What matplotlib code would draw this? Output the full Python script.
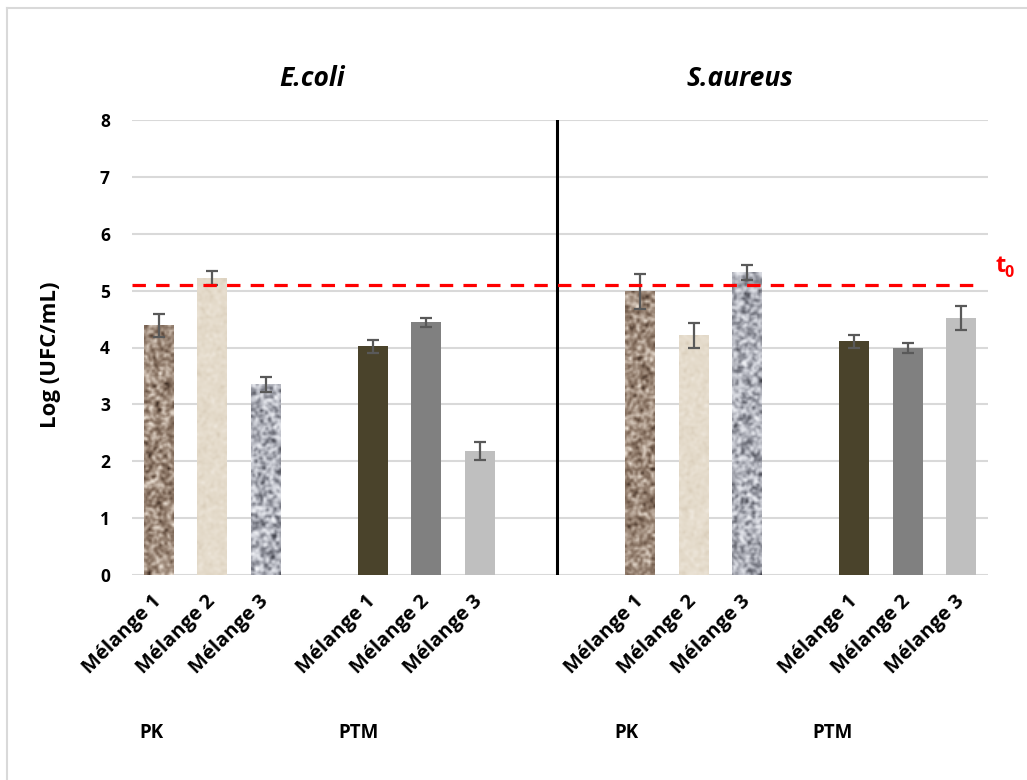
import numpy as np
import matplotlib.pyplot as plt
from matplotlib.colors import LinearSegmentedColormap
from matplotlib.lines import Line2D

plt.rcParams['font.family'] = ['Open Sans', 'DejaVu Sans']
plt.rcParams['font.weight'] = 'bold'

# data
categories = ['Mélange 1', 'Mélange 2', 'Mélange 3']
ecoli_pk = [4.39, 5.22, 3.35]
ecoli_pk_err = [0.20, 0.12, 0.13]
ecoli_ptm = [4.02, 4.44, 2.18]
ecoli_ptm_err = [0.11, 0.08, 0.16]
saureus_pk = [4.99, 4.21, 5.32]
saureus_pk_err = [0.31, 0.22, 0.13]
saureus_ptm = [4.11, 3.99, 4.52]
saureus_ptm_err = [0.11, 0.09, 0.21]
t0 = 5.10
yticks = [0, 1, 2, 3, 4, 5, 6, 7, 8]

# slot positions of each group on the category axis (blank slots between)
pos_ecoli_pk = [0, 1, 2]
pos_ecoli_ptm = [4, 5, 6]
pos_saureus_pk = [9, 10, 11]
pos_saureus_ptm = [13, 14, 15]

ptm_colors = ['#4a432b', '#808080', '#bfbfbf']
pk_cmaps = [
    LinearSegmentedColormap.from_list('brown', ['#3e2e24', '#7a6454', '#9c8878', '#c4b4a6', '#ece2d6']),
    LinearSegmentedColormap.from_list('beige', ['#d8ccb9', '#e2d8c7', '#e7decf', '#eee7dc']),
    LinearSegmentedColormap.from_list('granite', ['#3f4048', '#7c7e88', '#afb1ba', '#d8dae1', '#f4f5f8']),
]
pk_base = ['#9c897b', '#e5dccd', '#b9bbc3']

W = 0.56
px_per_unit = 56.875


def speckle(h, w, seed):
    r = np.random.default_rng(seed)
    z = r.random((h + 4, w + 4))
    k = np.array([0.25, 0.5, 0.25])
    z = np.apply_along_axis(lambda v: np.convolve(v, k, 'same'), 0, z)
    z = np.apply_along_axis(lambda v: np.convolve(v, k, 'same'), 1, z)
    z = z[2:-2, 2:-2]
    z = (z - z.min()) / (z.max() - z.min())
    return z


fig = plt.figure(figsize=(10.27, 7.8), dpi=100)
ax = fig.add_axes([132 / 1027, 1 - 575 / 780, 856 / 1027, 455 / 780])


def textured_bars(pos, vals, errs, seed0):
    for i, (x, v, e) in enumerate(zip(pos, vals, errs)):
        ax.bar(x, v, W, color=pk_base[i], zorder=2)
        h = max(int(v * px_per_unit / 1.6), 2)
        img = speckle(h, 19, seed0 + i)
        ax.imshow(img, cmap=pk_cmaps[i], extent=(x - W / 2, x + W / 2, 0, v),
                  aspect='auto', interpolation='bilinear', zorder=2.5)
        ax.errorbar(x, v, yerr=e, fmt='none', ecolor='#595959', elinewidth=1.6,
                    capsize=4.5, capthick=1.6, zorder=3)


def solid_bars(pos, vals, errs):
    ax.bar(pos, vals, W, color=ptm_colors, zorder=2)
    ax.errorbar(pos, vals, yerr=errs, fmt='none', ecolor='#595959', elinewidth=1.6,
                capsize=4.5, capthick=1.6, zorder=3)


textured_bars(pos_ecoli_pk, ecoli_pk, ecoli_pk_err, 10)
solid_bars(pos_ecoli_ptm, ecoli_ptm, ecoli_ptm_err)
textured_bars(pos_saureus_pk, saureus_pk, saureus_pk_err, 20)
solid_bars(pos_saureus_ptm, saureus_ptm, saureus_ptm_err)

# separator and t0 line
ax.plot([7.45, 7.45], [0, 8], color='black', lw=2.2, zorder=4)
ax.plot([-0.5, 15.3], [t0, t0], color='#ff0000', lw=2.3,
        linestyle=(0, (4.2, 3.2)), zorder=5)

ax.set_xlim(-0.5, 15.5)
ax.set_ylim(0, 8)
ax.set_yticks(yticks)
ax.set_yticklabels([str(t) for t in yticks], fontsize=12.5, fontweight='bold')
ax.yaxis.grid(True, color='#d9d9d9', lw=1.5, zorder=0)
ax.set_axisbelow(True)
for s in ax.spines.values():
    s.set_visible(False)
ax.tick_params(axis='both', length=0)
ax.tick_params(axis='y', pad=16)

all_pos = pos_ecoli_pk + pos_ecoli_ptm + pos_saureus_pk + pos_saureus_ptm
ax.set_xticks(all_pos)
ax.set_xticklabels(categories * 4, fontsize=14.5, fontweight='bold',
                   rotation=45, ha='right', va='center', rotation_mode='anchor')
ax.tick_params(axis='x', pad=17)

ax.set_ylabel('Log (UFC/mL)', fontsize=16, fontweight='bold')
ax.yaxis.set_label_coords(-0.083, 0.484)

fig.text(312 / 1027, 1 - 78 / 780, 'E.coli', fontsize=19, fontweight='bold',
         style='italic', ha='center', va='center')
fig.text(740 / 1027, 1 - 78 / 780, 'S.aureus', fontsize=19, fontweight='bold',
         style='italic', ha='center', va='center')

for x, lab in [(151, 'PK'), (358, 'PTM'), (626, 'PK'), (832, 'PTM')]:
    fig.text(x / 1027, 1 - 733 / 780, lab, fontsize=13.5, fontweight='bold',
             ha='center', va='center')

fig.text(995 / 1027, 1 - 272 / 780, 't', fontsize=17, fontweight='bold',
         color='#ff0000', ha='left', va='baseline')
fig.text(1004 / 1027, 1 - 277 / 780, '0', fontsize=11.5, fontweight='bold',
         color='#ff0000', ha='left', va='baseline')

# chart frame (top and left edges visible)
fig.add_artist(Line2D([7 / 1027, 1], [1 - 8 / 780, 1 - 8 / 780], color='#d9d9d9', lw=1.5))
fig.add_artist(Line2D([7 / 1027, 7 / 1027], [0, 1 - 8 / 780], color='#d9d9d9', lw=1.5))

fig.savefig('out.png', dpi=100)
